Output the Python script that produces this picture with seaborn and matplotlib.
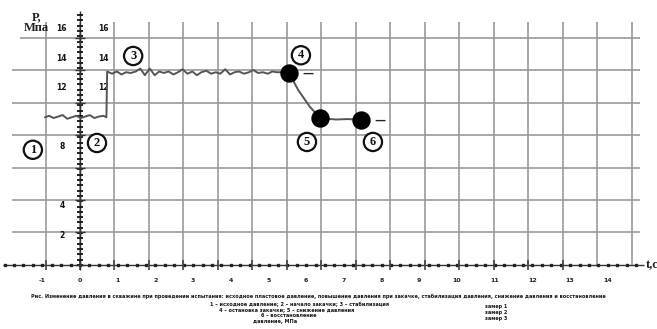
import numpy as np
import pandas as pd
import seaborn as sns
import matplotlib.pyplot as plt

# ---- data -------------------------------------------------------------
# stage 1-2: initial pressure before the step
t_initial = [-0.93, -0.82, -0.70, -0.58, -0.46, -0.34, -0.22, -0.10, 0.02, 0.14, 0.26, 0.38, 0.50, 0.62, 0.70]
p_initial = [10.0, 10.1, 9.95, 10.05, 10.15, 9.9, 10.0, 10.1, 9.95, 10.05, 10.15, 9.95, 10.05, 10.1, 10.0]

# stage 3-4: plateau after the step
t_plateau = [0.72, 0.85, 0.98, 1.10, 1.22, 1.35, 1.48, 1.60, 1.72, 1.85, 1.98, 2.10, 2.22, 2.35,
             2.48, 2.60, 2.72, 2.85, 2.98, 3.10, 3.22, 3.35, 3.48, 3.60, 3.72, 3.85, 3.98, 4.10,
             4.22, 4.35, 4.48, 4.60, 4.72, 4.85, 4.98, 5.10, 5.22, 5.35, 5.54]
p_plateau = [13.1, 12.95, 13.1, 12.9, 13.05, 13.0, 13.1, 13.3, 12.85, 13.3, 12.85, 13.1, 13.0, 13.1,
             12.9, 13.05, 13.25, 12.95, 13.1, 12.85, 13.05, 13.15, 12.95, 13.05, 12.95, 13.25, 12.9, 13.05,
             13.1, 12.95, 13.05, 13.2, 13.0, 13.05, 12.95, 13.1, 13.05, 13.05, 13.0]

# stage 4-6: pressure decline and stabilisation
t_decline = [5.54, 5.80, 6.10, 6.37, 6.55, 6.80, 7.10, 7.45]
p_decline = [13.0, 11.8, 10.7, 9.95, 9.9, 9.85, 9.88, 9.82]

# marked stage points
stage_t = [5.54, 6.37, 7.45]
stage_p = [13.0, 9.95, 9.82]

# stage numbers and their label positions (t, P)
stage_labels = ["1", "2", "3", "4", "5", "6"]
label_t = [-1.25, 0.45, 1.41, 5.86, 6.02, 7.77]
label_p = [7.8, 8.26, 14.15, 14.2, 8.33, 8.33]

# axis tick labels
x_tick_values = list(range(-1, 15))
y_left_ticks = [16, 14, 12, 8, 4, 2]
y_right_ticks = [16, 14, 12]

# chart grid cell size
GRID_DT = 0.915
GRID_DP = 2.2

# ---- figure -----------------------------------------------------------
sns.set_theme(style="white")
plt.rcParams["font.family"] = ["DejaVu Sans"]

fig = plt.figure(figsize=(6.57, 3.29), dpi=100)
ax = fig.add_axes([0, 0, 1, 1])
ax.set_xlim(-2.122, 15.305)
ax.set_ylim(-4.333, 17.94)
ax.axis("off")

grid_col = "#999999"
for k in range(-1, 17):
    ax.vlines(k * GRID_DT, 0, 16.45, color=grid_col, lw=1.2, zorder=1)
for k in range(1, 8):
    x0 = -1.6 if k == 7 else -1.8
    ax.hlines(k * GRID_DP, x0, 14.85, color=grid_col, lw=1.2, zorder=1)

# x axis with dense ticks
ax.hlines(0, -2.05, 14.95, color="#333333", lw=1.0, zorder=2)
minor_x = np.arange(-2.0, 14.9, 0.25)
ax.plot(minor_x, np.zeros_like(minor_x), ls="none", marker="s", ms=2.0, color="#222222", zorder=3)
ax.plot(np.arange(-1, 15) * GRID_DT, np.zeros(16), ls="none", marker="|", ms=7, mew=1.2,
        color="#444444", zorder=3)
for v in x_tick_values:
    ax.text(v, -1.08, str(v), ha="center", va="center", fontsize=4.5, fontweight="bold",
            color="#222222")
ax.text(15.0, 0.0, "t,c", ha="left", va="center", fontsize=9, fontweight="bold",
        family="Liberation Serif", color="#222222")

# y axis with dense ticks
ax.vlines(0, 0, 17.2, color="#333333", lw=1.0, zorder=2)
minor_y = np.arange(0, 17.2, 0.36)
ax.plot(np.zeros_like(minor_y), minor_y, ls="none", marker="_", ms=4.5, mew=1.3,
        color="#111111", zorder=3)
ax.plot(np.zeros(8), np.arange(0, 17.6, GRID_DP), ls="none", marker="+", ms=7, mew=1.0,
        color="#333333", zorder=3)
for v in y_left_ticks:
    ax.text(-0.48, v, str(v), ha="center", va="center", fontsize=5.5, fontweight="bold",
            color="#111111")
for v in y_right_ticks:
    ax.text(0.61, v, str(v), ha="center", va="center", fontsize=5.5, fontweight="bold",
            color="#111111")
ax.text(-1.15, 16.4, "P,\nМпа", ha="center", va="center", fontsize=9, fontweight="bold",
        family="Liberation Serif", linespacing=0.8, color="#222222")

# pressure curve
curve = pd.DataFrame({
    "t": t_initial + t_plateau + t_decline[1:],
    "P": p_initial + p_plateau + p_decline[1:],
})
sns.lineplot(data=curve, x="t", y="P", sort=False, color="#555555", lw=1.4, ax=ax, zorder=4)
sns.scatterplot(x=stage_t, y=stage_p, s=150, color="black", edgecolor="black", ax=ax, zorder=5)
for tx, px in [(stage_t[0], stage_p[0]), (stage_t[2], stage_p[2])]:
    ax.annotate("—", xy=(tx, px), xytext=(14, -0.5), textcoords="offset points",
                ha="center", va="center", fontsize=8, fontweight="bold", color="#222222")

# circled stage numbers
for lab, tx, px in zip(stage_labels, label_t, label_p):
    ax.text(tx, px, lab, ha="center", va="center", fontsize=9, fontweight="bold",
            family="Liberation Serif", color="#111111",
            bbox=dict(boxstyle="circle,pad=0.25", fc="white", ec="#111111", lw=1.6), zorder=6)

# caption under the chart
cap_kw = dict(fontsize=3.6, fontweight="bold", color="#1a1a1a", ha="left", va="center")
ax.text(-1.3, -2.15,
        "Рис. Изменение давления в скважине при проведении испытания: исходное пластовое давление, "
        "повышение давления при закачке, стабилизация давления, снижение давления и восстановление",
        **cap_kw)
ax.text(3.45, -2.65, "1 – исходное давление; 2 – начало закачки; 3 – стабилизация", **cap_kw)
ax.text(3.7, -3.05, "4 – остановка закачки; 5 – снижение давления", **cap_kw)
ax.text(4.8, -3.45, "6 – восстановление", **cap_kw)
ax.text(4.6, -3.85, "давление, МПа", **cap_kw)
ax.text(10.75, -2.8, "замер 1", **cap_kw)
ax.text(10.75, -3.2, "замер 2", **cap_kw)
ax.text(10.75, -3.65, "замер 3", **cap_kw)

fig.savefig("out.png", dpi=100)
